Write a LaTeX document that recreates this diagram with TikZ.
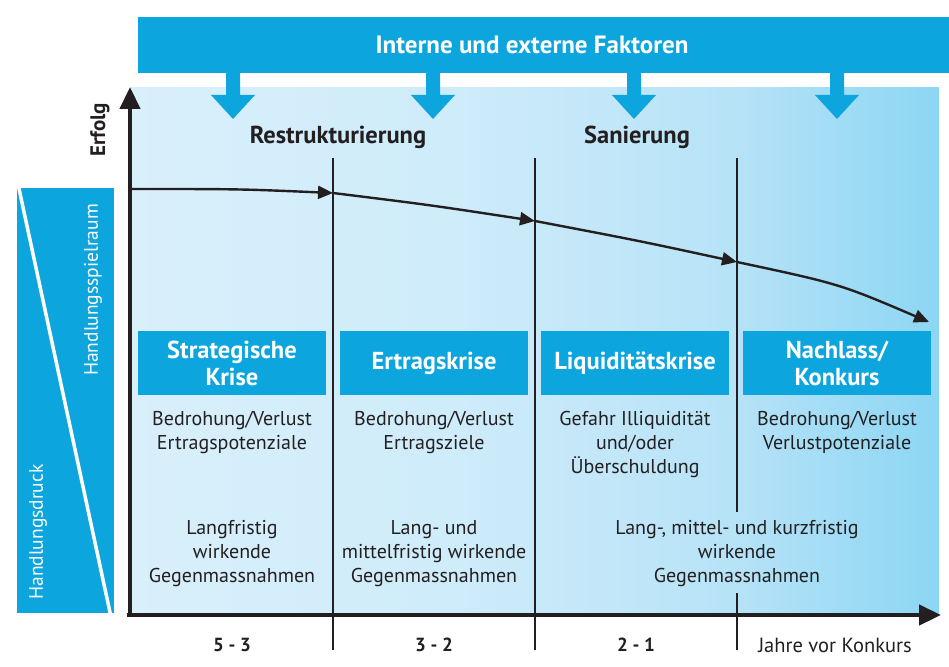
\documentclass[tikz,border=0pt]{standalone}
\usepackage{fontspec}
\setmainfont{PT Sans}
\usetikzlibrary{arrows.meta}
\definecolor{kblue}{RGB}{12,165,221}
\definecolor{ktext}{RGB}{35,31,32}
\pgfdeclarehorizontalshading{bgshade}{100bp}{
  rgb(0bp)=(0.85,0.94,0.985);
  rgb(25bp)=(0.85,0.94,0.985);
  rgb(45bp)=(0.81,0.925,0.98);
  rgb(62bp)=(0.72,0.89,0.97);
  rgb(75bp)=(0.55,0.84,0.955);
  rgb(100bp)=(0.55,0.84,0.955)}
\tikzset{
  krisebox/.style={fill=kblue, text=white, font=\bfseries\fontsize{24.5}{27}\selectfont,
    minimum width=188pt, minimum height=64pt, inner sep=0pt, align=center},
  bodytext/.style={text=ktext, font=\fontsize{20}{24}\selectfont, align=center, inner sep=0pt},
  phasetext/.style={text=ktext, font=\bfseries\fontsize{24.5}{27}\selectfont, inner sep=0pt},
  axislabel/.style={text=ktext, font=\bfseries\fontsize{19}{20}\selectfont, inner sep=0pt},
  sidelabel/.style={rotate=90, text=white, font=\fontsize{19.5}{20}\selectfont, inner sep=0pt},
  divline/.style={draw=ktext, line width=1.6pt},
  axisline/.style={draw=ktext, line width=4.5pt},
  curvearrow/.style={draw=ktext, line width=2.4pt, -{Triangle[length=15pt,width=13pt]}},
  downarrow/.style={fill=kblue, draw=none},
}
\begin{document}
\begin{tikzpicture}[x=1pt,y=-1pt]
\useasboundingbox (0,0) rectangle (949,666);
% background
\shade[shading=bgshade] (130,88) rectangle (939,615);
% top bar
\node[fill=kblue, minimum width=811pt, minimum height=56pt, inner sep=0pt, anchor=north west] (bar) at (138,17) {};
\node[text=white, font=\bfseries\fontsize{25}{27}\selectfont, inner sep=0pt] (bartext) at (532,45) {Interne und externe Faktoren};
% down arrows
\foreach \x/\n in {233/a1,433/a2,634/a3,837/a4}{
  \fill[downarrow] (\x-7,72) -- (\x+7,72) -- (\x+7,95) -- (\x+22,95) -- (\x,119) -- (\x-22,95) -- (\x-7,95) -- cycle;
  \coordinate (\n) at (\x,119);
}
% left panel
\begin{scope}
  \clip (17,188) rectangle (114,613);
  \fill[kblue] (17,188) rectangle (114,613);
  \draw[white, line width=3.5pt] (18,184) -- (111,617);
\end{scope}
\node[sidelabel] (spiel) at (93,290) {Handlungsspielraum};
\node[sidelabel] (druck) at (38,532) {Handlungsdruck};
\node[rotate=90, text=ktext, font=\bfseries\fontsize{21}{22}\selectfont, inner sep=0pt] (erfolg) at (100,130) {Erfolg};
% divider lines
\coordinate (v1t) at (333,158); \coordinate (v1b) at (333,650);
\coordinate (v2t) at (535,158); \coordinate (v2b) at (535,650);
\coordinate (v3t) at (737,158); \coordinate (v3m) at (737,512);
\coordinate (v3n) at (737,593); \coordinate (v3b) at (737,650);
\draw[divline] (v1t) -- (v1b);
\draw[divline] (v2t) -- (v2b);
\draw[divline] (v3t) -- (v3m);
\draw[divline] (v3n) -- (v3b);
% axes
\coordinate (o) at (130,617);
\coordinate (ytop) at (130,87);
\coordinate (xo) at (127,615);
\coordinate (xend) at (941,615);
\draw[axisline, -{Triangle[length=22pt,width=20pt]}] (o) -- (ytop);
\draw[axisline, -{Triangle[length=22pt,width=20pt]}] (xo) -- (xend);
% phase headings
\node[phasetext] (restr) at (338,137) {Restrukturierung};
\node[phasetext] (san) at (637,137) {Sanierung};
% curve
\coordinate (c0) at (132,189);
\coordinate (c1) at (333,193);
\coordinate (c2) at (535,221);
\coordinate (c3) at (737,262);
\coordinate (c4) at (929,322);
\draw[curvearrow] (c0) .. controls (240,189) .. (c1);
\draw[curvearrow] (c1) .. controls (430,205) .. (c2);
\draw[curvearrow] (c2) .. controls (640,241) .. (c3);
\draw[curvearrow] (c3) .. controls (840,284) .. (c4);
% crisis boxes
\node[krisebox] (k1) at (232,363) {Strategische\\Krise};
\node[krisebox] (k2) at (434,363) {Ertragskrise};
\node[krisebox] (k3) at (635,363) {Liquiditätskrise};
\node[krisebox] (k4) at (837,363) {Nachlass/\\Konkurs};
% descriptions
\node[bodytext, anchor=north] (d1) at (232,411) {Bedrohung/Verlust\\Ertragspotenziale};
\node[bodytext, anchor=north] (d2) at (434,411) {Bedrohung/Verlust\\Ertragsziele};
\node[bodytext, anchor=north] (d3) at (635,411) {Gefahr Illiquidität\\und/oder\\Überschuldung};
\node[bodytext, anchor=north] (d4) at (837,411) {Bedrohung/Verlust\\Verlustpotenziale};
% measures
\node[bodytext, anchor=north] (m1) at (232,520) {Langfristig\\wirkende\\Gegenmassnahmen};
\node[bodytext, anchor=north] (m2) at (434,520) {Lang- und\\mittelfristig wirkende\\Gegenmassnahmen};
\node[bodytext, anchor=north] (m3) at (737,520) {Lang-, mittel- und kurzfristig\\wirkende\\Gegenmassnahmen};
% axis labels
\node[axislabel] (j1) at (232,645) {5 - 3};
\node[axislabel] (j2) at (434,645) {3 - 2};
\node[axislabel] (j3) at (636,645) {2 - 1};
\node[axislabel, font=\fontsize{20.5}{22}\selectfont] (j4) at (835,645) {Jahre vor Konkurs};
\end{tikzpicture}
\end{document}
